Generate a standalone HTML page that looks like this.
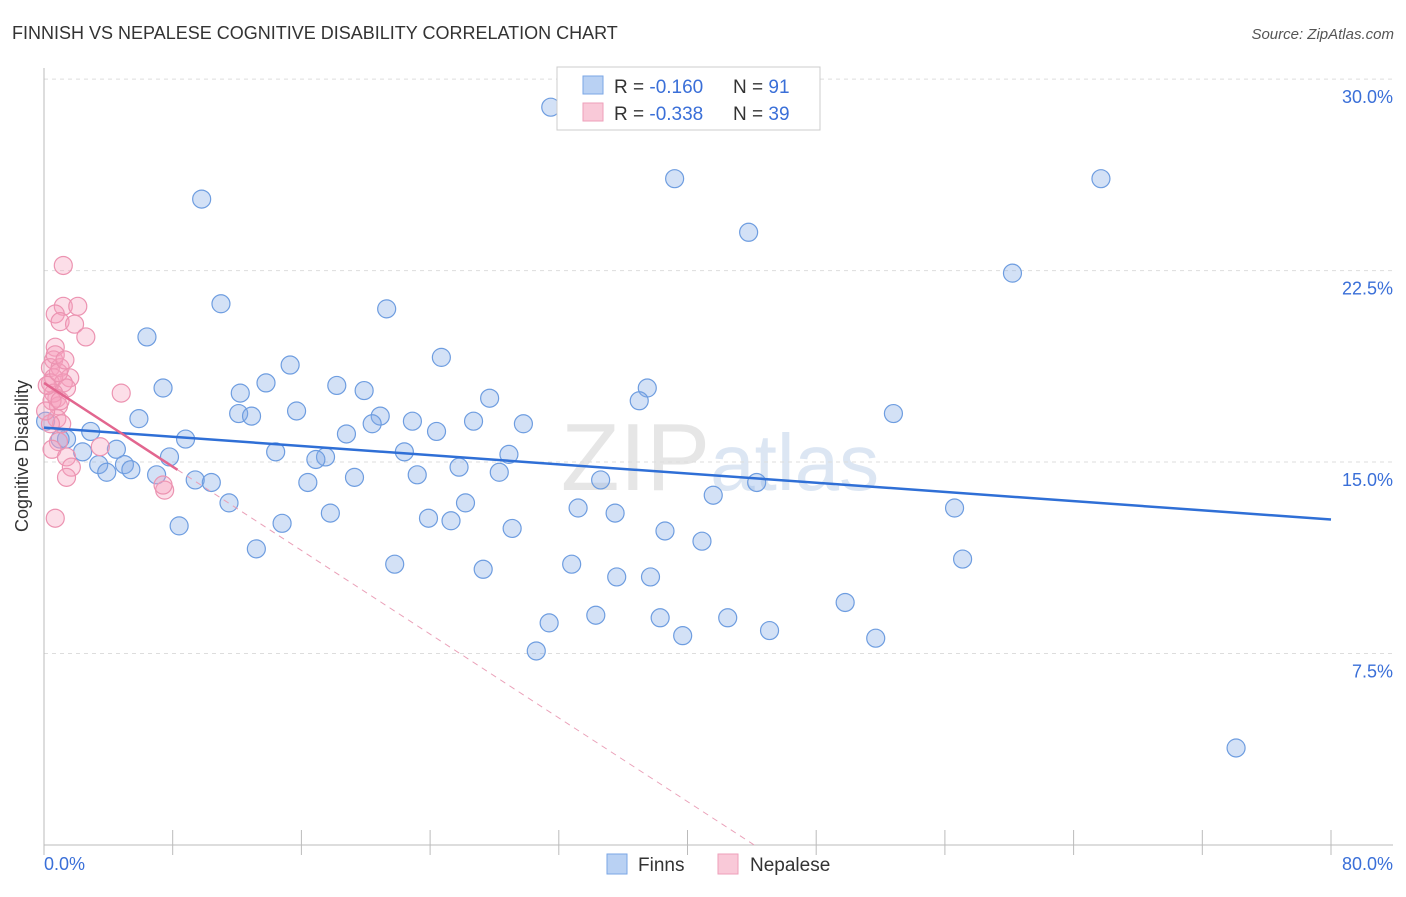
<!DOCTYPE html>
<html><head><meta charset="utf-8"><style>
body{margin:0;background:#fff;font-family:"Liberation Sans",sans-serif;}
svg text{font-family:"Liberation Sans",sans-serif;}
</style></head><body>
<svg id="chart" width="1406" height="892" viewBox="0 0 1406 892">
<text x="12" y="39" font-size="18" fill="#333">FINNISH VS NEPALESE COGNITIVE DISABILITY CORRELATION CHART</text>
<text x="1394" y="39" font-size="15" fill="#555" font-style="italic" text-anchor="end">Source: ZipAtlas.com</text>
<text x="720" y="490" font-size="96" fill="#e6e6e6" text-anchor="middle" font-family="Liberation Serif">ZIP<tspan fill="#dce6f3" font-family="Liberation Sans" font-size="80">atlas</tspan></text>
<g id="grid"></g>
<line x1="44" y1="68" x2="44" y2="845" stroke="#bbb"/>
<line x1="44" y1="845" x2="1393" y2="845" stroke="#bbb"/>
<text x="28" y="456" font-size="18" fill="#333" text-anchor="middle" transform="rotate(-90 28 456)">Cognitive Disability</text>
<text x="44" y="870" font-size="18" fill="#3a6fd8">0.0%</text>
<text x="1393" y="870" font-size="18" fill="#3a6fd8" text-anchor="end">80.0%</text>
<g id="marks"></g>
<g>
<rect x="557" y="67" width="263" height="63" fill="#fff" stroke="#ccc"/>
<rect x="583" y="76" width="20" height="18" fill="#b9d1f3" stroke="#7aa6e6"/>
<rect x="583" y="103" width="20" height="18" fill="#f9c9d8" stroke="#ee9fba"/>
<text x="614" y="93" font-size="19" fill="#333">R = <tspan fill="#3a6fd8">-0.160</tspan><tspan x="733">N = </tspan><tspan fill="#3a6fd8">91</tspan></text>
<text x="614" y="120" font-size="19" fill="#333">R = <tspan fill="#3a6fd8">-0.338</tspan><tspan x="733">N = </tspan><tspan fill="#3a6fd8">39</tspan></text>
</g>
<g>
<rect x="607" y="854" width="20" height="20" fill="#b9d1f3" stroke="#7aa6e6"/>
<text x="638" y="871" font-size="19" fill="#333">Finns</text>
<rect x="718" y="854" width="20" height="20" fill="#f9c9d8" stroke="#ee9fba"/>
<text x="750" y="871" font-size="19" fill="#333">Nepalese</text>
</g>
</svg>
<script>
const yTicks=[7.5,15,22.5,30];
const yTickLabels=["7.5%","15.0%","22.5%","30.0%"];
const xTicks=[0,8,16,24,32,40,48,56,64,72,80];
const finnsX=[31.5,39.2,65.7,9.8,43.8,60.2,11.0,21.3,6.4,24.7,15.3,13.8,18.2,19.9,7.4,12.2,37.5,37.0,27.7,52.8,15.7,12.1,12.9,5.9,20.9,22.9,26.7,20.4,29.8,24.4,18.8,8.8,2.9,1.4,4.5,2.4,14.4,22.4,28.9,17.5,16.9,7.8,3.4,5.0,5.4,25.8,3.9,23.2,28.3,7.0,19.3,16.4,9.4,10.4,34.6,44.3,41.6,11.5,26.2,33.2,35.5,56.6,17.8,23.9,25.3,14.8,8.4,29.1,38.6,40.9,13.2,21.8,32.8,57.1,27.3,35.6,37.7,49.8,34.3,31.4,38.3,42.5,45.1,39.7,51.7,30.6,74.1,0.1,1.0];
const finnsY=[28.9,26.1,26.1,25.3,24.0,22.4,21.2,21.0,19.9,19.1,18.8,18.1,18.0,17.8,17.9,17.7,17.9,17.4,17.5,16.9,17.0,16.9,16.8,16.7,16.8,16.6,16.6,16.5,16.5,16.2,16.1,15.9,16.2,15.9,15.5,15.4,15.4,15.4,15.3,15.2,15.1,15.2,14.9,14.9,14.7,14.8,14.6,14.5,14.6,14.5,14.4,14.2,14.3,14.2,14.3,14.2,13.7,13.4,13.4,13.2,13.0,13.2,13.0,12.8,12.7,12.6,12.5,12.4,12.3,11.9,11.6,11.0,11.0,11.2,10.8,10.5,10.5,9.5,9.0,8.7,8.9,8.9,8.4,8.2,8.1,7.6,3.8,16.6,15.9];
const nepX=[1.2,1.2,2.1,0.7,1.0,1.9,2.6,0.7,0.6,0.4,1.0,1.6,0.6,0.4,1.2,1.4,4.8,0.8,0.9,0.8,1.1,0.4,3.5,0.9,0.5,1.4,1.7,1.4,7.5,7.4,0.7,0.6,0.5,1.0,0.2,0.9,0.7,0.1,1.3];
const nepY=[22.7,21.1,21.1,20.8,20.5,20.4,19.9,19.5,19.0,18.7,18.7,18.3,18.3,18.1,18.1,17.9,17.7,17.5,17.2,16.7,16.5,16.5,15.6,15.8,15.5,15.2,14.8,14.4,13.9,14.1,12.8,17.7,17.4,17.4,18.0,18.5,19.2,17.0,19.0];
const finnsTrend=[16.35,12.75];
const nepTrend=[18.1,-0.41,8.3];
const X=v=>44+v*(1287/80), Y=v=>845-v*25.53;
const NS="http://www.w3.org/2000/svg";
function mk(tag,attrs,parent){const e=document.createElementNS(NS,tag);for(const k in attrs)e.setAttribute(k,attrs[k]);parent.appendChild(e);return e;}
const grid=document.getElementById('grid'), marks=document.getElementById('marks');
yTicks.forEach((t,i)=>{
 const l=mk('line',{x1:44,x2:1393,y1:Y(t),y2:Y(t),stroke:'#ddd','stroke-dasharray':'4,4'},grid);
 
 
 const tx=mk('text',{x:1393,y:Y(t)+24,'font-size':18,fill:'#3a6fd8','text-anchor':'end'},grid);
 tx.textContent=yTickLabels[i];
 
 
});
xTicks.forEach(t=>{
 const l=mk('line',{x1:X(t),x2:X(t),y1:830,y2:845+10,stroke:'#bbb'},grid);
 
 
});
finnsX.forEach((x,i)=>{
 const c=mk('circle',{cx:X(x),cy:Y(finnsY[i]),r:9,fill:'rgba(130,170,230,0.35)',stroke:'#6e9de0','stroke-width':1.2},marks);
 
 
});
nepX.forEach((x,i)=>{
 const c=mk('circle',{cx:X(x),cy:Y(nepY[i]),r:9,fill:'rgba(245,160,190,0.35)',stroke:'#ec93b1','stroke-width':1.2},marks);
 
 
});
const bl=mk('line',{x1:X(0),y1:Y(finnsTrend[0]),x2:X(80),y2:Y(finnsTrend[1]),stroke:'#2f6fd6','stroke-width':2.5},marks);


const xz=-nepTrend[0]/nepTrend[1];
const pd=mk('line',{x1:X(nepTrend[2]),y1:Y(nepTrend[0]+nepTrend[1]*nepTrend[2]),x2:X(xz),y2:Y(0),stroke:'#eaa0b8','stroke-width':1,'stroke-dasharray':'6,5'},marks);


const pl=mk('line',{x1:X(0),y1:Y(nepTrend[0]),x2:X(nepTrend[2]),y2:Y(nepTrend[0]+nepTrend[1]*nepTrend[2]),stroke:'#e2668f','stroke-width':2.5},marks);


</script>
</body></html>
